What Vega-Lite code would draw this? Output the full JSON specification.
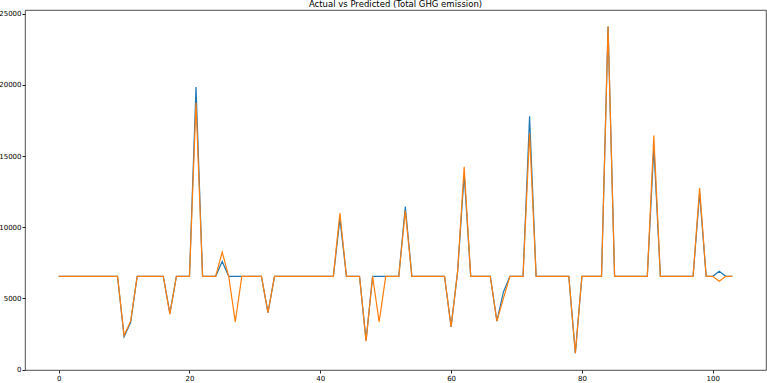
{
  "$schema": "https://vega.github.io/schema/vega-lite/v6.json",
  "width": 741,
  "height": 360,
  "autosize": "none",
  "padding": {"left": 25, "top": 10, "right": 1, "bottom": 13},
  "title": {"text": "Actual vs Predicted (Total GHG emission)", "fontSize": 8.5, "font": "DejaVu Sans", "fontWeight": "normal", "offset": 1, "anchor": "middle", "color": "#000"},
  "config": {
    "view": {"stroke": "#222", "strokeWidth": 0.8},
    "axis": {"grid": false, "domain": false, "tickColor": "#222", "tickSize": 3, "labelFont": "DejaVu Sans", "labelFontSize": 7, "labelColor": "#000", "labelPadding": 1, "title": null}
  },
  "data": {"values": [
    {"i":0,"actual":6550,"predicted":6550},{"i":1,"actual":6550,"predicted":6550},{"i":2,"actual":6550,"predicted":6550},{"i":3,"actual":6550,"predicted":6550},
    {"i":4,"actual":6550,"predicted":6550},{"i":5,"actual":6550,"predicted":6550},{"i":6,"actual":6550,"predicted":6550},{"i":7,"actual":6550,"predicted":6550},
    {"i":8,"actual":6550,"predicted":6550},{"i":9,"actual":6550,"predicted":6550},{"i":10,"actual":2300,"predicted":2400},{"i":11,"actual":3300,"predicted":3400},
    {"i":12,"actual":6550,"predicted":6550},{"i":13,"actual":6550,"predicted":6550},{"i":14,"actual":6550,"predicted":6550},{"i":15,"actual":6550,"predicted":6550},
    {"i":16,"actual":6550,"predicted":6550},{"i":17,"actual":3950,"predicted":3900},{"i":18,"actual":6550,"predicted":6550},{"i":19,"actual":6550,"predicted":6550},
    {"i":20,"actual":6550,"predicted":6550},{"i":21,"actual":19850,"predicted":18750},{"i":22,"actual":6550,"predicted":6550},{"i":23,"actual":6550,"predicted":6550},
    {"i":24,"actual":6550,"predicted":6550},{"i":25,"actual":7600,"predicted":8250},{"i":26,"actual":6550,"predicted":6550},{"i":27,"actual":6550,"predicted":3350},
    {"i":28,"actual":6550,"predicted":6550},{"i":29,"actual":6550,"predicted":6550},{"i":30,"actual":6550,"predicted":6550},{"i":31,"actual":6550,"predicted":6550},
    {"i":32,"actual":4000,"predicted":4000},{"i":33,"actual":6550,"predicted":6550},{"i":34,"actual":6550,"predicted":6550},{"i":35,"actual":6550,"predicted":6550},
    {"i":36,"actual":6550,"predicted":6550},{"i":37,"actual":6550,"predicted":6550},{"i":38,"actual":6550,"predicted":6550},{"i":39,"actual":6550,"predicted":6550},
    {"i":40,"actual":6550,"predicted":6550},{"i":41,"actual":6550,"predicted":6550},{"i":42,"actual":6550,"predicted":6550},{"i":43,"actual":10600,"predicted":11000},
    {"i":44,"actual":6550,"predicted":6550},{"i":45,"actual":6550,"predicted":6550},{"i":46,"actual":6550,"predicted":6550},{"i":47,"actual":2050,"predicted":2000},
    {"i":48,"actual":6550,"predicted":6550},{"i":49,"actual":6550,"predicted":3350},{"i":50,"actual":6550,"predicted":6550},{"i":51,"actual":6550,"predicted":6550},
    {"i":52,"actual":6550,"predicted":6550},{"i":53,"actual":11450,"predicted":11150},{"i":54,"actual":6550,"predicted":6550},{"i":55,"actual":6550,"predicted":6550},
    {"i":56,"actual":6550,"predicted":6550},{"i":57,"actual":6550,"predicted":6550},{"i":58,"actual":6550,"predicted":6550},{"i":59,"actual":6550,"predicted":6550},
    {"i":60,"actual":3000,"predicted":3000},{"i":61,"actual":6900,"predicted":6900},{"i":62,"actual":13700,"predicted":14250},{"i":63,"actual":6550,"predicted":6550},
    {"i":64,"actual":6550,"predicted":6550},{"i":65,"actual":6550,"predicted":6550},{"i":66,"actual":6550,"predicted":6550},{"i":67,"actual":3400,"predicted":3400},
    {"i":68,"actual":5450,"predicted":5000},{"i":69,"actual":6550,"predicted":6550},{"i":70,"actual":6550,"predicted":6550},{"i":71,"actual":6550,"predicted":6550},
    {"i":72,"actual":17800,"predicted":16600},{"i":73,"actual":6550,"predicted":6550},{"i":74,"actual":6550,"predicted":6550},{"i":75,"actual":6550,"predicted":6550},
    {"i":76,"actual":6550,"predicted":6550},{"i":77,"actual":6550,"predicted":6550},{"i":78,"actual":6550,"predicted":6550},{"i":79,"actual":1150,"predicted":1150},
    {"i":80,"actual":6550,"predicted":6550},{"i":81,"actual":6550,"predicted":6550},{"i":82,"actual":6550,"predicted":6550},{"i":83,"actual":6550,"predicted":6550},
    {"i":84,"actual":24100,"predicted":24100},{"i":85,"actual":6550,"predicted":6550},{"i":86,"actual":6550,"predicted":6550},{"i":87,"actual":6550,"predicted":6550},
    {"i":88,"actual":6550,"predicted":6550},{"i":89,"actual":6550,"predicted":6550},{"i":90,"actual":6550,"predicted":6550},{"i":91,"actual":15600,"predicted":16450},
    {"i":92,"actual":6550,"predicted":6550},{"i":93,"actual":6550,"predicted":6550},{"i":94,"actual":6550,"predicted":6550},{"i":95,"actual":6550,"predicted":6550},
    {"i":96,"actual":6550,"predicted":6550},{"i":97,"actual":6550,"predicted":6550},{"i":98,"actual":12400,"predicted":12750},{"i":99,"actual":6550,"predicted":6550},
    {"i":100,"actual":6550,"predicted":6550},{"i":101,"actual":6900,"predicted":6200},{"i":102,"actual":6550,"predicted":6550},{"i":103,"actual":6550,"predicted":6550}
  ]},
  "encoding": {
    "x": {"field": "i", "type": "quantitative", "scale": {"domain": [-5.15, 108.15], "nice": false, "zero": false}, "axis": {"values": [0, 20, 40, 60, 80, 100]}}
  },
  "layer": [
    {
      "mark": {"type": "line", "color": "#1f77b4", "strokeWidth": 1.2},
      "encoding": {
        "y": {"field": "actual", "type": "quantitative", "scale": {"domain": [-30, 25260], "nice": false, "zero": false}, "axis": {"values": [0, 5000, 10000, 15000, 20000, 25000], "format": "d"}}
      }
    },
    {
      "mark": {"type": "line", "color": "#ff7f0e", "strokeWidth": 1.2},
      "encoding": {
        "y": {"field": "predicted", "type": "quantitative"}
      }
    }
  ]
}
